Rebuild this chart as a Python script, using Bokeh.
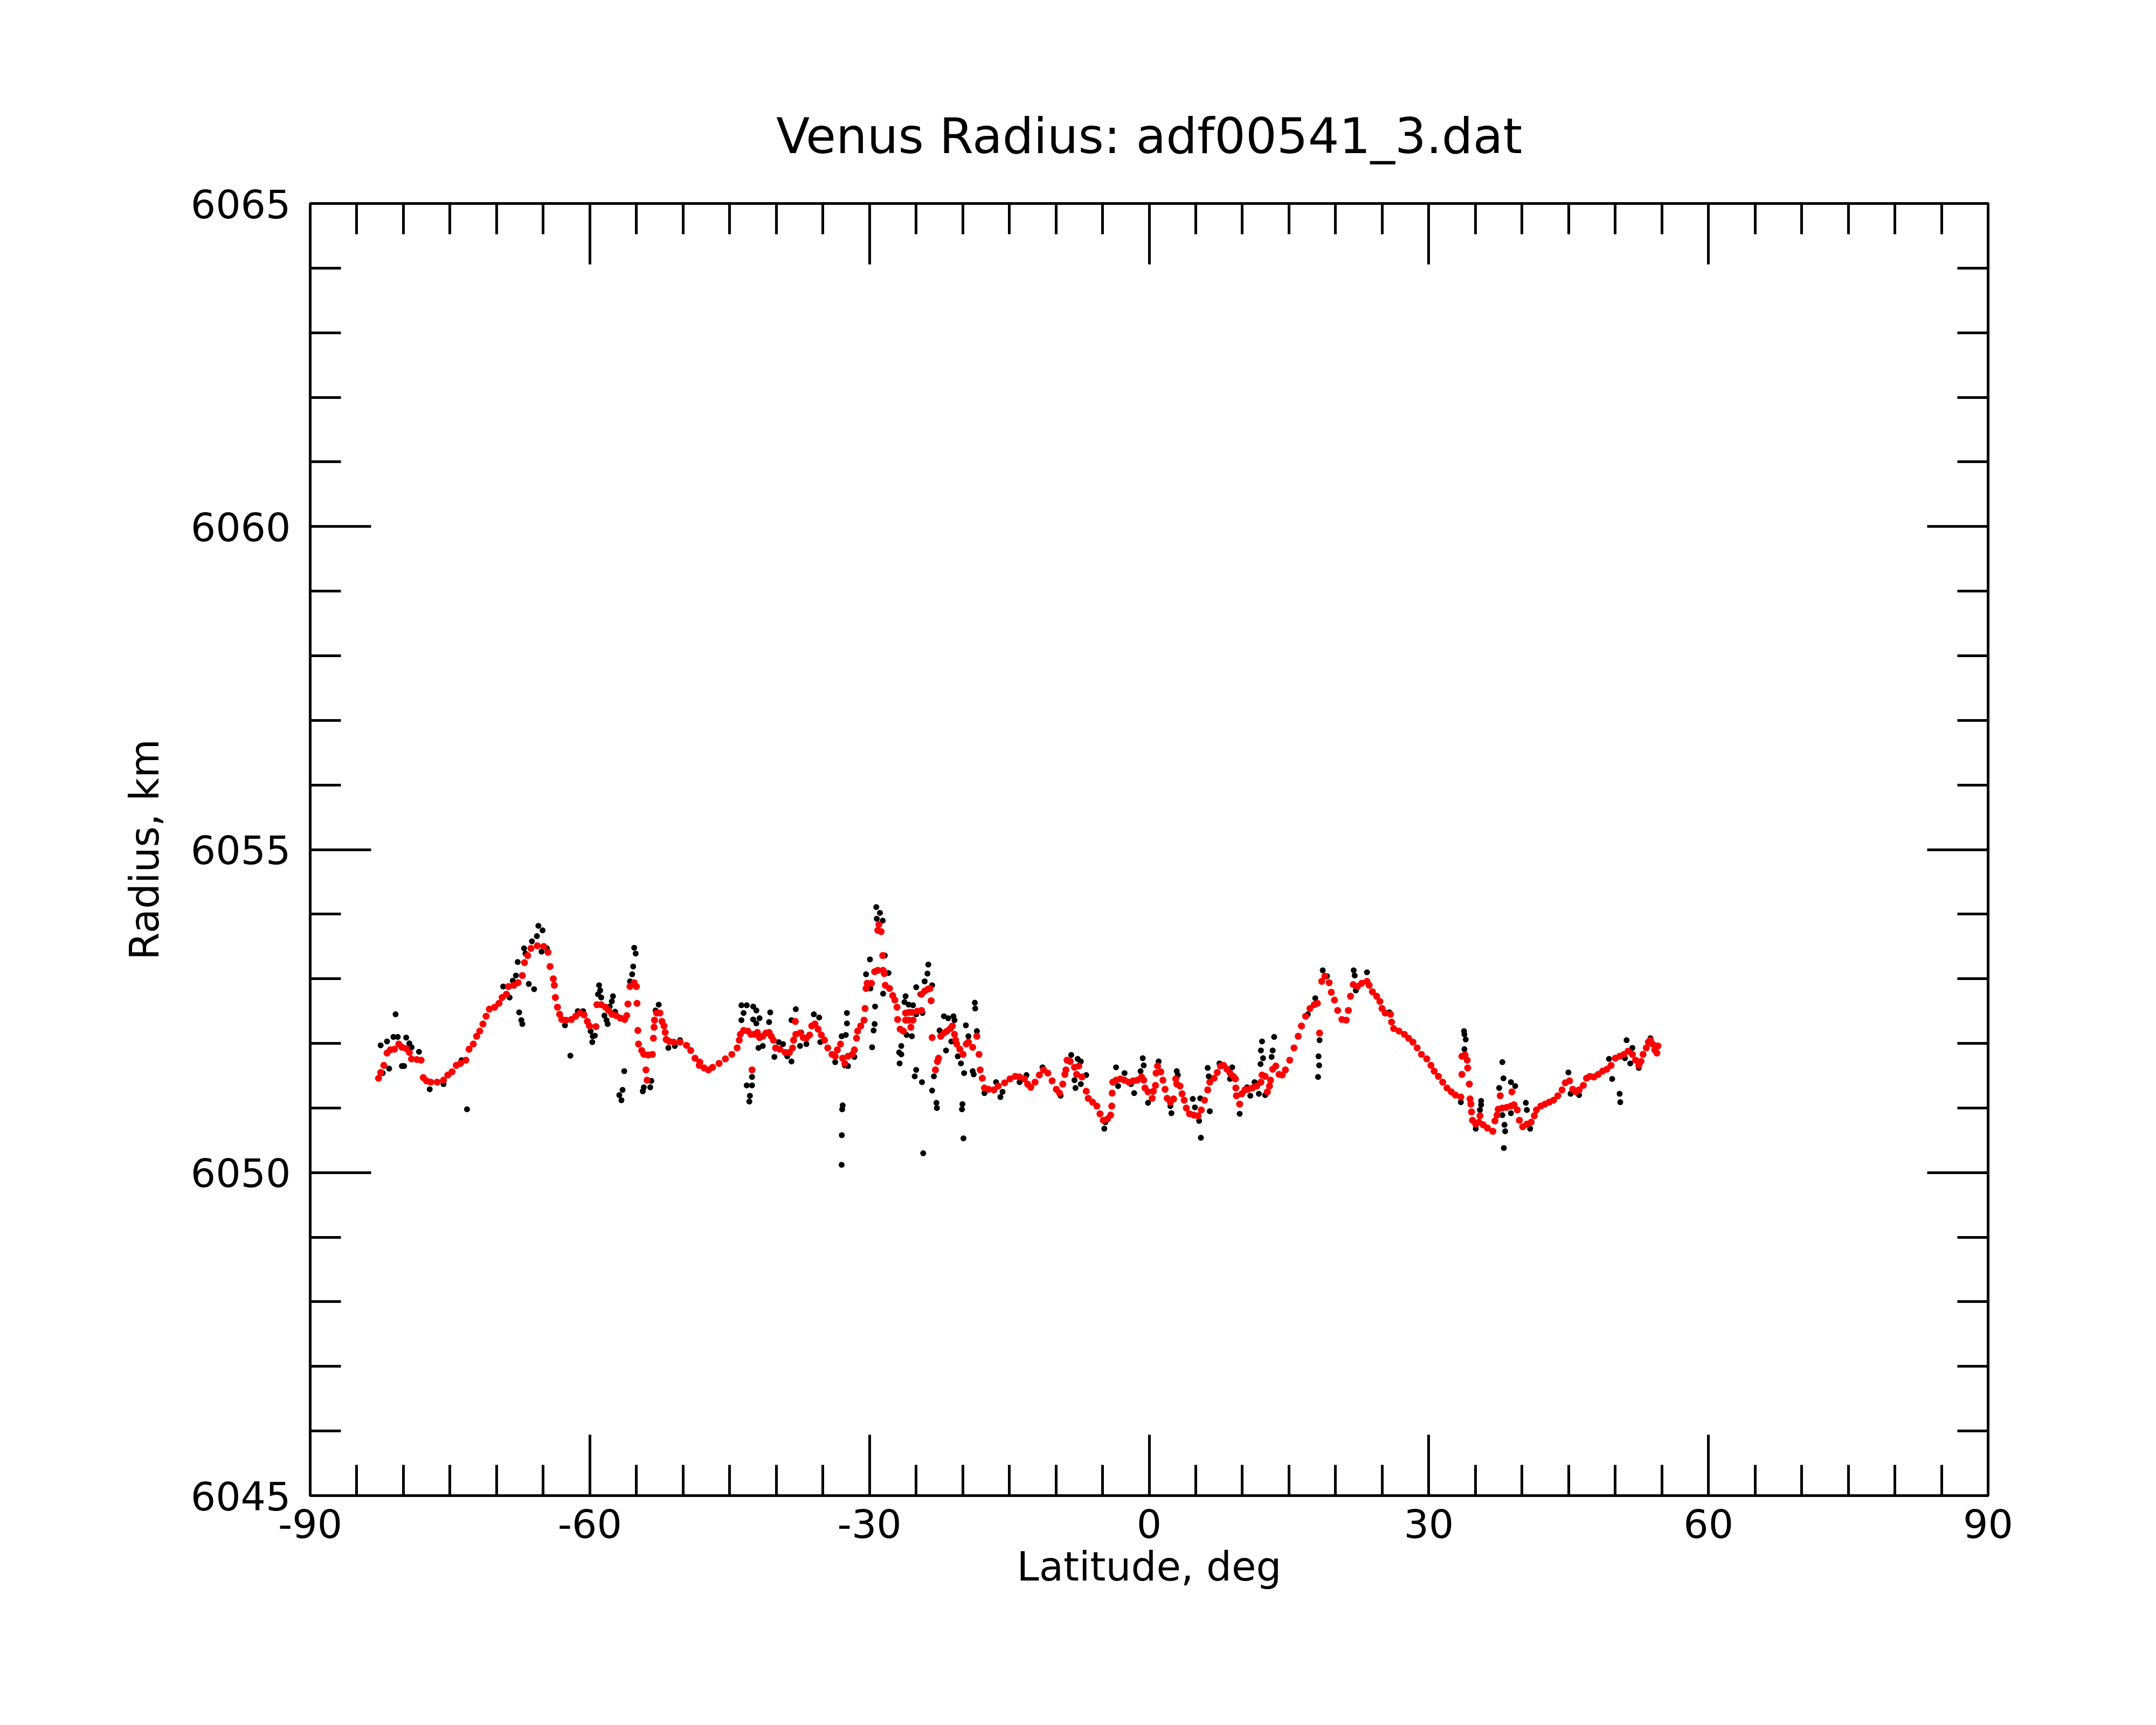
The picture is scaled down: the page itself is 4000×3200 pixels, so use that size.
from bokeh.plotting import figure
from bokeh.models import Range1d, LinearAxis, SingleIntervalTicker, Title, CustomJSTickFormatter, ColumnDataSource
from bokeh.embed import file_html
from bokeh.resources import INLINE

TITLE = "Venus Radius: adf00541_3.dat"
X_LABEL = "Latitude, deg"
Y_LABEL = "Radius, km"
X_RANGE = (-90, 90)
Y_RANGE = (6045, 6065)

# smoothed radius profile (red)
red_lat = [
    -82.67, -82.44, -82.10, -81.76, -81.41, -80.96, -80.50, -80.16, -79.70, -79.36,
    -79.13, -78.56, -78.10, -77.87, -77.53, -77.07, -76.38, -75.70, -75.24, -74.78,
    -74.33, -73.87, -73.30, -72.96, -72.50, -72.15, -71.81, -71.47, -71.13, -70.78,
    -70.21, -69.75, -69.41, -68.95, -68.73, -68.15, -67.70, -67.24, -67.01, -66.67,
    -66.32, -65.64, -64.95, -64.49, -64.27, -63.92, -63.81, -63.70, -63.47, -63.24,
    -63.01, -62.55, -61.98, -61.52, -61.07, -60.61, -60.27, -60.04, -59.35, -59.24,
    -58.78, -58.32, -57.98, -57.64, -57.18, -56.72, -56.26, -56.04, -55.92, -55.69,
    -55.24, -55.01, -54.94, -54.85, -54.78, -54.44, -54.21, -53.75, -53.29, -53.98,
    -53.86, -53.18, -53.11, -53.06, -52.84, -52.49, -52.26, -52.04, -51.92, -51.81,
    -51.47, -51.01, -50.32, -49.63, -49.18, -48.72, -48.26,
    -48.20, -47.74, -47.28, -46.83, -46.14, -45.46, -44.77, -44.20, -43.97, -43.86,
    -43.51, -43.05, -42.71, -42.37, -42.03, -41.80, -41.45, -41.11, -40.77, -40.54,
    -40.31, -40.08, -39.62, -39.05, -38.59, -38.25, -38.14, -37.91, -37.45, -37.11,
    -36.77, -36.42, -36.19, -35.85, -35.51, -35.17, -34.82, -34.48, -34.02, -33.68,
    -33.45, -33.11, -32.88, -32.65, -32.31, -31.85, -31.62, -31.39, -31.28, -30.94,
    -30.59, -30.48, -42.60, -37.96, -30.37, -30.25, -29.79, -29.45, -29.11, -28.54,
    -28.42, -29.11, -28.76, -28.99, -28.58, -28.31, -27.85, -27.51, -27.28, -27.05,
    -26.98, -26.71, -26.36, -26.13, -25.79, -25.56, -25.33, -26.13, -25.79, -25.45,
    -24.88, -24.42, -24.42, -24.08, -23.73, -23.51, -23.39, -23.28, -22.93, -22.71,
    -22.59, -22.36, -22.02, -21.68, -21.33, -21.11, -20.88, -20.76, -20.65, -20.31,
    -19.96, -19.62, -19.39, -18.93, -18.48, -18.25, -18.13, -17.90, -17.67, -17.22,
    -16.65, -16.19, -15.50, -14.93, -14.36, -13.90,
    -13.39, -13.04, -12.70, -12.24, -11.78, -11.33, -10.87, -10.41, -9.96, -9.61,
    -9.27, -9.04, -8.93, -8.81, -8.47, -8.01, -7.55, -7.78, -7.21, -6.75,
    -6.53, -6.07, -5.61, -5.27, -4.92, -4.47, -4.13, -4.01, -3.97, -3.90,
    -3.55, -3.09, -2.64, -2.18, -1.72, -1.27, -0.81, -0.58, -0.45, -0.12,
    0.33, 0.45, 0.68, 0.74, 0.90, 1.25, 1.48, 1.71, 1.93, 2.28,
    2.62, 2.85, 2.96, 3.31, 3.53, 3.76, 3.99, 4.33, 4.79, 5.25,
    5.59, 5.94, 6.28, 6.51, 6.96, 7.31, 7.65, 7.99, 8.34, 8.68,
    9.02, 9.25, 9.30, 9.36, 9.71, 9.94, 10.28, 10.62, 11.08, 11.54,
    11.99, 12.11, 12.45, 12.68, 12.91, 13.02, 13.25, 13.59, 13.94, 14.28,
    14.62, 15.08, 15.54, 15.99, 16.34, 16.79, 17.25, 17.71, 18.05, 18.28,
    18.51, 18.85, 19.31, 19.54, 19.88, 20.22, 20.68, 21.14, 21.37, 21.60,
    21.89, 22.35, 22.80, 23.37, 23.60, 23.95, 24.40, 24.75, 24.98, 25.32,
    25.89, 26.00, 26.23, 26.80, 27.38, 27.83, 28.29, 28.75, 29.21, 29.78,
    30.23, 30.58, 31.03, 31.49, 31.95, 32.41, 32.86, 33.44, 33.55, 33.89,
    34.12, 34.17, 33.55, 34.35, 34.42, 34.51, 34.58, 34.69, 35.04, 35.38,
    35.49, 35.84, 36.29, 36.87, 37.09, 37.32, 37.44, 37.89, 38.35, 38.81,
    39.15, 39.49, 39.72, 40.07, 40.52, 40.98, 41.32, 41.55, 42.01, 42.47,
    42.92, 43.38, 43.84, 44.29, 44.64, 45.10, 45.44, 45.78, 46.12, 46.58,
    46.92, 47.27, 47.72, 48.18, 48.64, 49.10, 49.55, 50.01, 50.47, 50.93,
    51.38, 51.84, 52.18, 52.53, 52.76, 52.98, 53.33, 53.56, 53.78, 54.01,
    54.24, 54.47, 54.58, 37.66, 38.92,
]
red_radius = [
    6051.46, 6051.55, 6051.66, 6051.85, 6051.90, 6051.91, 6051.99, 6051.94, 6051.92, 6051.86,
    6051.76, 6051.75, 6051.74, 6051.47, 6051.42, 6051.40, 6051.40, 6051.43, 6051.51, 6051.56,
    6051.66, 6051.69, 6051.74, 6051.91, 6051.99, 6052.11, 6052.19, 6052.30, 6052.42, 6052.53,
    6052.56, 6052.62, 6052.71, 6052.76, 6052.88, 6052.90, 6052.94, 6053.05, 6053.25, 6053.36,
    6053.47, 6053.51, 6053.50, 6053.41, 6053.19, 6053.00, 6052.90, 6052.71, 6052.56, 6052.45,
    6052.37, 6052.36, 6052.37, 6052.42, 6052.47, 6052.44, 6052.34, 6052.27, 6052.26, 6052.60,
    6052.60, 6052.56, 6052.51, 6052.45, 6052.43, 6052.39, 6052.37, 6052.43, 6052.61, 6052.88,
    6052.94, 6052.88, 6052.62, 6052.20, 6051.99, 6051.89, 6051.83, 6051.82, 6051.83, 6051.59,
    6051.43, 6052.08, 6052.25, 6052.36, 6052.47, 6052.47, 6052.34, 6052.27, 6052.17, 6052.06,
    6052.03, 6052.02, 6052.02, 6051.97, 6051.89, 6051.77, 6051.66,
    6051.71, 6051.62, 6051.59, 6051.63, 6051.69, 6051.76, 6051.83, 6051.93, 6052.05, 6052.14,
    6052.20, 6052.19, 6052.14, 6052.14, 6052.17, 6052.09, 6052.11, 6052.16, 6052.17, 6052.11,
    6052.05, 6051.93, 6051.91, 6051.86, 6051.86, 6051.93, 6052.05, 6052.14, 6052.16, 6052.09,
    6052.08, 6052.13, 6052.27, 6052.30, 6052.22, 6052.13, 6052.05, 6051.93, 6051.83, 6051.80,
    6051.90, 6051.99, 6051.77, 6051.69, 6051.80, 6051.83, 6051.90, 6052.08, 6052.19, 6052.27,
    6052.36, 6052.54, 6051.59, 6052.34, 6052.85, 6052.93, 6052.93, 6053.11, 6053.13, 6053.13,
    6053.08, 6053.75, 6053.73, 6053.84, 6053.36, 6052.90, 6052.85, 6052.74, 6052.67, 6052.56,
    6052.37, 6052.22, 6052.19, 6052.36, 6052.36, 6052.25, 6052.36, 6052.47, 6052.48, 6052.48,
    6052.50, 6052.51, 6052.76, 6052.81, 6052.84, 6052.85, 6052.66, 6052.09, 6051.59, 6051.72,
    6051.77, 6052.11, 6052.16, 6052.19, 6052.23, 6052.27, 6052.14, 6052.05, 6051.99, 6051.91,
    6051.83, 6051.99, 6052.02, 6051.94, 6052.11, 6051.83, 6051.59, 6051.46, 6051.31, 6051.29,
    6051.28, 6051.34, 6051.39, 6051.45, 6051.49, 6051.48,
    6051.45, 6051.37, 6051.32, 6051.40, 6051.51, 6051.59, 6051.54, 6051.42, 6051.29, 6051.23,
    6051.37, 6051.52, 6051.59, 6051.74, 6051.72, 6051.63, 6051.65, 6051.52, 6051.48, 6051.26,
    6051.15, 6051.09, 6051.03, 6050.91, 6050.81, 6050.83, 6050.89, 6051.03, 6051.23, 6051.40,
    6051.43, 6051.45, 6051.43, 6051.40, 6051.42, 6051.43, 6051.48, 6051.43, 6051.31, 6051.25,
    6051.15, 6051.26, 6051.35, 6051.54, 6051.65, 6051.56, 6051.43, 6051.29, 6051.15, 6051.09,
    6051.14, 6051.45, 6051.37, 6051.34, 6051.22, 6051.12, 6051.00, 6050.91, 6050.89, 6050.88,
    6050.97, 6051.12, 6051.28, 6051.40, 6051.46, 6051.55, 6051.65, 6051.66, 6051.60, 6051.54,
    6051.49, 6051.45, 6051.31, 6051.19, 6051.06, 6051.22, 6051.28, 6051.29, 6051.31, 6051.34,
    6051.40, 6051.51, 6051.49, 6051.25, 6051.34, 6051.43, 6051.60, 6051.65, 6051.52, 6051.51,
    6051.59, 6051.74, 6051.93, 6052.11, 6052.27, 6052.42, 6052.54, 6052.60, 6052.62, 6052.16,
    6052.96, 6053.04, 6052.94, 6052.79, 6052.67, 6052.51, 6052.37, 6052.36, 6052.51, 6052.73,
    6052.91, 6052.88, 6052.93, 6052.96, 6052.90, 6052.80, 6052.73, 6052.65, 6052.54, 6052.47,
    6052.45, 6052.33, 6052.23, 6052.19, 6052.14, 6052.08, 6052.02, 6051.93, 6051.83, 6051.76,
    6051.66, 6051.57, 6051.49, 6051.40, 6051.31, 6051.25, 6051.20, 6051.17, 6051.80, 6051.82,
    6051.74, 6051.62, 6051.52, 6051.37, 6051.14, 6051.06, 6050.94, 6050.81, 6050.75, 6050.78,
    6050.88, 6050.74, 6050.69, 6050.64, 6050.80, 6050.89, 6050.98, 6051.00, 6051.01, 6051.03,
    6051.05, 6050.97, 6050.81, 6050.71, 6050.75, 6050.78, 6050.88, 6050.97, 6051.03, 6051.06,
    6051.09, 6051.12, 6051.19, 6051.28, 6051.39, 6051.42, 6051.29, 6051.25, 6051.28, 6051.35,
    6051.46, 6051.49, 6051.48, 6051.52, 6051.57, 6051.60, 6051.66, 6051.77, 6051.80, 6051.83,
    6051.88, 6051.83, 6051.74, 6051.66, 6051.72, 6051.83, 6051.93, 6052.02, 6052.05, 6051.99,
    6051.90, 6051.85, 6051.96, 6051.19, 6051.25,
]

# raw radius measurements (black)
black_lat = [
    -82.44, -81.76, -81.07, -80.61, -79.70, -79.36, -79.13, -78.33, -81.53, -80.16,
    -79.93, -82.22, -80.84, -77.18, -75.70, -73.18, -73.76, -69.30, -68.61, -68.27,
    -67.93, -67.74, -67.06, -66.90, -66.21, -65.68, -65.52, -65.07, -66.55, -65.98,
    -67.58, -67.35, -67.24, -65.18, -64.61, -62.67, -61.29, -60.72, -59.92, -59.69,
    -59.46, -59.74, -59.01, -58.89, -59.12, -58.78, -57.52, -57.64, -57.87, -58.44,
    -58.21, -58.09, -57.29, -55.24, -55.08, -55.35, -55.46, -55.69, -56.31, -56.49,
    -56.84, -56.61, -54.32, -54.21, -53.52, -53.41, -52.61, -52.95, -51.58, -50.89,
    -50.32, -62.09,
    -43.74, -43.17, -42.48, -42.14, -43.51, -43.74, -42.48, -42.14, -41.80, -40.65,
    -40.77, -41.91, -41.45, -40.20, -39.74, -39.28, -38.82, -38.37, -37.91, -38.37,
    -37.45, -37.34, -36.77, -35.97, -35.40, -35.28, -33.68, -32.99, -32.54, -32.42,
    -32.42, -32.65, -32.31, -31.62, -42.60, -43.17, -42.60, -42.83, -42.89, -32.88,
    -32.93, -32.97, -32.99, -29.27, -28.88, -29.22, -28.58, -29.95, -28.36, -27.96,
    -30.37, -29.91, -28.54, -29.40, -29.45, -29.56, -29.72, -26.13, -26.25, -25.79,
    -25.33, -24.99, -24.31, -26.02, -25.45, -26.59, -26.82, -26.59, -26.77, -23.69,
    -23.78, -24.08, -24.99, -23.28, -24.54, -24.99, -25.15, -24.37, -23.28, -23.09,
    -22.82, -22.77, -24.24, -22.02, -21.56, -20.99, -20.88, -22.48, -21.79, -21.22,
    -20.53, -20.19, -19.85, -19.66, -19.39, -18.48, -18.70, -18.66, -18.93, -18.82,
    -20.03, -20.08, -19.92, -17.67, -16.42, -15.96, -15.73, -13.90,
    -13.16, -11.44, -9.50, -8.36, -7.67, -7.33, -8.01, -7.90, -7.33, -6.75,
    -4.81, -4.70, -3.55, -3.33, -2.64, -1.95, -1.61, -0.69, -0.58, -0.92,
    -0.12, 0.45, 1.02, 2.28, 2.39, 2.96, 3.08, 4.68, 4.91, 5.48,
    6.51, 5.36, 5.55, 6.28, 6.39, 7.54, 8.91, 8.68, 9.71, 10.51,
    10.85, 11.31, 11.77, 12.45, 12.11, 11.99, 12.22, 11.95, 13.41, 13.25,
    13.14, 17.82, 17.02, 18.62, 19.08, 18.28, 18.17, 18.24, 18.12, 21.94,
    22.05, 22.17,
    23.37, 25.78, 33.44, 33.78, 33.82, 33.96, 33.82, 35.04, 35.61, 35.61,
    35.49, 37.89, 38.01, 37.55, 38.81, 39.27, 38.81, 37.89, 38.12, 38.19,
    38.05, 40.41, 40.52, 40.87, 44.98, 45.21, 46.12, 49.67, 49.33, 50.47,
    50.54, 51.22, 51.84, 51.61, 52.53, 53.78, 51.04,
]
black_radius = [
    6051.97, 6052.03, 6052.10, 6052.10, 6052.09, 6052.00, 6051.94, 6051.87, 6051.61, 6051.65,
    6051.65, 6051.54, 6052.45, 6051.29, 6051.37, 6050.98, 6051.74, 6052.88, 6052.71, 6052.97,
    6053.05, 6053.26, 6053.47, 6053.39, 6053.58, 6053.66, 6053.82, 6053.75, 6052.92, 6052.84,
    6052.48, 6052.36, 6052.30, 6053.42, 6053.47, 6052.28, 6052.50, 6052.50, 6052.19, 6052.11,
    6052.12, 6052.02, 6052.90, 6052.82, 6052.76, 6052.71, 6052.73, 6052.65, 6052.57, 6052.43,
    6052.36, 6052.30, 6052.49, 6053.48, 6053.39, 6053.19, 6053.07, 6052.96, 6051.57, 6051.28,
    6051.20, 6051.12, 6051.26, 6051.32, 6051.32, 6051.42, 6052.60, 6052.51, 6051.93, 6051.96,
    6052.05, 6051.81,
    6052.59, 6052.59, 6052.57, 6052.51, 6052.47, 6052.36, 6052.37, 6052.31, 6052.39, 6052.48,
    6052.33, 6051.93, 6051.96, 6051.79, 6052.02, 6051.99, 6051.80, 6051.72, 6052.53, 6052.36,
    6051.96, 6052.17, 6051.99, 6052.45, 6052.40, 6052.02, 6051.71, 6052.11, 6052.13, 6052.47,
    6052.31, 6051.66, 6051.65, 6051.79, 6051.48, 6051.35, 6051.35, 6051.19, 6051.10, 6051.04,
    6050.98, 6050.58, 6050.12, 6054.11, 6054.02, 6053.93, 6053.90, 6053.30, 6053.36, 6053.09,
    6053.07, 6052.85, 6052.77, 6052.57, 6052.30, 6052.20, 6051.94, 6052.73, 6052.64, 6052.60,
    6052.59, 6052.45, 6052.47, 6052.13, 6052.11, 6051.96, 6051.86, 6051.83, 6051.69, 6053.22,
    6053.08, 6052.96, 6052.87, 6052.90, 6052.76, 6051.59, 6051.49, 6051.40, 6051.27, 6051.49,
    6051.08, 6051.00, 6050.30, 6052.42, 6052.39, 6052.42, 6052.36, 6052.20, 6051.89, 6052.03,
    6051.80, 6051.69, 6051.54, 6052.28, 6052.11, 6052.19, 6052.63, 6052.54, 6051.57, 6051.52,
    6051.06, 6050.98, 6050.53, 6051.23, 6051.40, 6051.17, 6051.25, 6051.40,
    6051.51, 6051.63, 6051.19, 6051.82, 6051.76, 6051.72, 6051.43, 6051.31, 6051.37, 6051.51,
    6050.68, 6050.78, 6051.63, 6051.34, 6051.54, 6051.37, 6051.23, 6051.77, 6051.66, 6051.57,
    6051.08, 6051.25, 6051.72, 6051.03, 6050.92, 6051.57, 6051.51, 6051.14, 6051.01, 6051.15,
    6050.95, 6050.80, 6050.54, 6051.62, 6051.49, 6051.69, 6051.63, 6051.45, 6050.91, 6051.32,
    6051.19, 6051.40, 6051.22, 6051.20, 6052.03, 6051.89, 6051.77, 6051.68, 6052.10, 6051.89,
    6051.79, 6052.70, 6052.45, 6053.13, 6053.04, 6052.05, 6051.80, 6051.66, 6051.48, 6053.13,
    6053.05, 6052.82,
    6053.10, 6052.48, 6051.09, 6052.19, 6052.14, 6052.06, 6051.91, 6050.68, 6051.11, 6051.05,
    6050.97, 6051.71, 6051.46, 6051.31, 6051.40, 6051.34, 6050.92, 6050.89, 6050.74, 6050.64,
    6050.38, 6051.08, 6050.97, 6050.68, 6051.55, 6051.22, 6051.20, 6051.45, 6051.76, 6051.22,
    6051.09, 6052.05, 6051.93, 6051.69, 6051.62, 6052.08, 6051.77,
]

import sys
nr = min(len(red_lat), len(red_radius))
nb = min(len(black_lat), len(black_radius))
if len(red_lat) != len(red_radius) or len(black_lat) != len(black_radius):
    print("length mismatch", len(red_lat), len(red_radius), len(black_lat), len(black_radius), file=sys.stderr)

FONT = "DejaVu Sans"
W, H = 3984, 3184

p = figure(width=W, height=H, output_backend="svg", toolbar_location=None,
           x_range=Range1d(*X_RANGE), y_range=Range1d(*Y_RANGE),
           x_axis_location=None, y_axis_location=None,
           min_border_left=575, min_border_right=296,
           min_border_top=377, min_border_bottom=410)
p.outline_line_color = "black"
p.outline_line_width = 5
p.background_fill_color = "white"
p.border_fill_color = "white"
for g in p.grid:
    g.visible = False

p.title = Title(text=TITLE, align="center", text_font=FONT, text_font_size="91px",
                text_font_style="normal", text_color="black", standoff=146)


def style_axis(ax, show_labels):
    ax.axis_line_color = "black"
    ax.axis_line_width = 5
    ax.major_tick_in = 113
    ax.major_tick_out = 0
    ax.minor_tick_in = 57
    ax.minor_tick_out = 0
    ax.major_tick_line_color = "black"
    ax.minor_tick_line_color = "black"
    ax.major_tick_line_width = 5
    ax.minor_tick_line_width = 5
    ax.major_label_text_font = FONT
    ax.major_label_text_color = "black"
    ax.axis_label_text_font = FONT
    ax.axis_label_text_font_size = "74px"
    ax.axis_label_text_font_style = "normal"
    ax.axis_label_text_color = "black"
    if show_labels:
        ax.major_label_text_font_size = "73px"
        ax.formatter = CustomJSTickFormatter(code="return tick.toFixed(0);")
    else:
        ax.major_label_text_font_size = "1px"
        ax.major_label_standoff = 0
        ax.formatter = CustomJSTickFormatter(code="return '';")


def xticker():
    return SingleIntervalTicker(interval=30, num_minor_ticks=6)


def yticker():
    return SingleIntervalTicker(interval=5, num_minor_ticks=5)


xb = LinearAxis(ticker=xticker(), axis_label=X_LABEL)
style_axis(xb, True)
xb.major_label_standoff = 24
xb.axis_label_standoff = 7
p.add_layout(xb, "below")

xt = LinearAxis(ticker=xticker())
style_axis(xt, False)
p.add_layout(xt, "above")

yl = LinearAxis(ticker=yticker(), axis_label=Y_LABEL)
style_axis(yl, True)
yl.major_label_standoff = 36
yl.axis_label_standoff = 40
p.add_layout(yl, "left")

yr = LinearAxis(ticker=yticker())
style_axis(yr, False)
p.add_layout(yr, "right")

black_src = ColumnDataSource(data=dict(lat=black_lat[:nb], radius=black_radius[:nb]))
red_src = ColumnDataSource(data=dict(lat=red_lat[:nr], radius=red_radius[:nr]))

p.scatter("lat", "radius", source=black_src, size=11, color="black", line_color=None)
p.scatter("lat", "radius", source=red_src, size=13, color="#ff0000", line_color=None)

open("out.html", "w").write(file_html(p, INLINE))
